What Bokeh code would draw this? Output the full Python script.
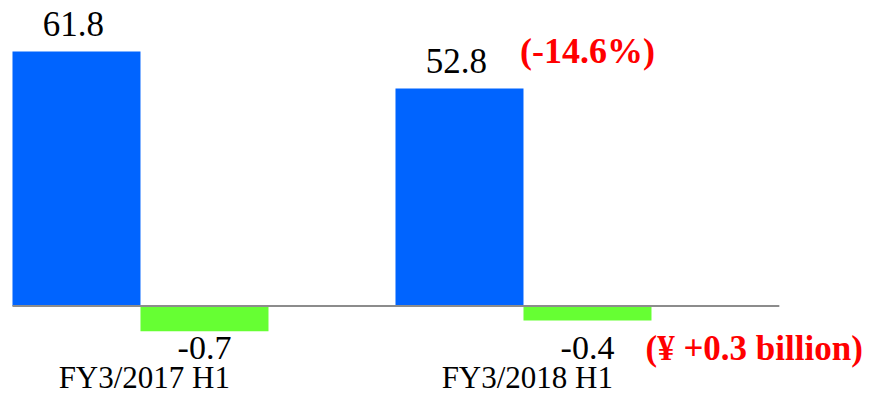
from bokeh.plotting import figure
from bokeh.models import ColumnDataSource, Range1d
from bokeh.transform import dodge
from bokeh.core.properties import value
from bokeh.embed import file_html
from bokeh.resources import INLINE

# ---- data ----
categories = ["FY3/2017 H1", "FY3/2018 H1"]
blue_values = [61.8, 52.8]          # left bars
green_values = [-0.7, -0.4]         # right bars
blue_labels = ["61.8", "52.8"]
green_labels = ["-0.7", "-0.4"]
pct_note = ["(-14.6%)"]
yen_note = ["(\u00a5 +0.3 billion)"]

idx = list(range(len(categories)))
src = ColumnDataSource(dict(idx=idx, cat=categories, blue=blue_values, green=green_values,
                            bl=blue_labels, gl=green_labels))

BW = 0.3342  # bar width in category units
FONT = "Liberation Serif"

p = figure(width=866, height=395, x_range=Range1d(-0.3655, 1.8956),
           y_range=Range1d(-21.73, 74.19), output_backend="svg",
           toolbar_location=None, min_border=0)
p.extra_y_ranges = {"chg": Range1d(-2.486, 8.486)}
p.axis.visible = False
p.xgrid.visible = False
p.ygrid.visible = False
p.outline_line_color = None
p.background_fill_color = "white"

# bars
p.vbar(x=dodge("idx", -BW / 2), top="blue", bottom=0, width=BW, source=src,
       fill_color="#0064FF", line_color=None)
p.vbar(x=dodge("idx", BW / 2), top=0, bottom="green", width=BW, source=src,
       y_range_name="chg", fill_color="#66FF33", line_color=None)

# baseline
p.segment(x0=[idx[0] - BW], x1=[idx[-1] + 0.668], y0=[0], y1=[0],
          line_color="#8C8C8C", line_width=2)

# value labels
p.text(x=dodge("idx", -BW / 2), y="blue", text="bl", source=src,
       text_align="center", text_baseline="alphabetic", x_offset=-3, y_offset=-28,
       text_font=value(FONT), text_font_size="35px", text_color="black")
p.text(x=dodge("idx", BW / 2), y=min(green_values), text="gl", source=src, y_range_name="chg",
       text_align="center", text_baseline="alphabetic", y_offset=17,
       text_font=value(FONT), text_font_size="34px", text_color="black")

# category labels
p.text(x=dodge("idx", 0.01), y=p.y_range.start, text="cat", source=src,
       text_align="center", text_baseline="alphabetic", y_offset=-18,
       text_font=value(FONT), text_font_size="31px", text_color="black")

# red notes on the latest period
last = idx[-1]
p.text(x=[last + BW / 2], y=[blue_values[-1]], text=pct_note,
       text_align="center", text_baseline="alphabetic", y_offset=-38,
       text_font=value(FONT), text_font_style="bold", text_font_size="36px",
       text_color="#FF0000")
p.text(x=[last + BW], y=[min(green_values)], text=yen_note, y_range_name="chg",
       text_align="left", text_baseline="alphabetic", x_offset=-6, y_offset=17,
       text_font=value(FONT), text_font_style="bold", text_font_size="35px",
       text_color="#FF0000")

open("out.html", "w").write(file_html(p, INLINE))
